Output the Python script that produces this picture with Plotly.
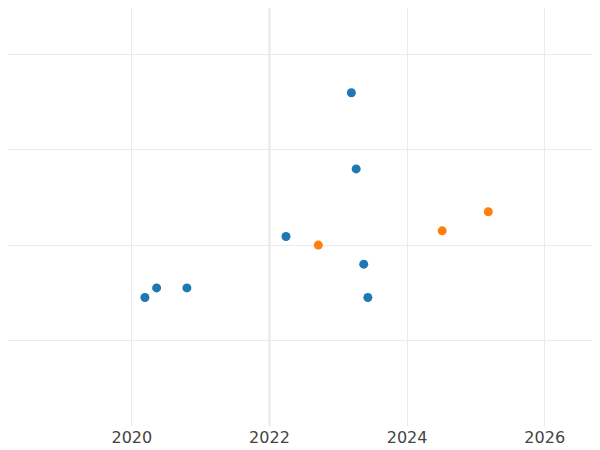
import plotly.graph_objects as go

blue_x = [2020.19, 2020.36, 2020.8, 2022.24, 2023.19, 2023.26, 2023.37, 2023.43]
blue_y = [1.45, 1.55, 1.55, 2.09, 3.6, 2.8, 1.8, 1.45]
orange_x = [2022.71, 2024.51, 2025.18]
orange_y = [2.0, 2.15, 2.35]
x_ticks = [2020, 2022, 2024, 2026]
y_ticks = [1, 2, 3, 4]

fig = go.Figure()
fig.add_trace(go.Scatter(x=blue_x, y=blue_y, mode="markers", marker=dict(color="#1f77b4", size=9)))
fig.add_trace(go.Scatter(x=orange_x, y=orange_y, mode="markers", marker=dict(color="#ff7f0e", size=9)))
fig.add_vline(x=2022, line=dict(color="#e2e2e2", width=2), layer="below")
fig.update_layout(
    width=600, height=450, showlegend=False,
    plot_bgcolor="white", paper_bgcolor="white",
    margin=dict(l=0, r=0, t=0, b=32, pad=0, autoexpand=False),
    font=dict(family="DejaVu Sans", size=16, color="#444"),
    xaxis=dict(range=[2018.2, 2026.92], tickvals=x_ticks, ticktext=[str(t) for t in x_ticks],
               showgrid=True, gridcolor="#ebebeb", zeroline=False),
    yaxis=dict(range=[0.1, 4.49], tickvals=y_ticks, showticklabels=False,
               showgrid=True, gridcolor="#ebebeb", zeroline=False),
)
fig.write_html("out.html")
